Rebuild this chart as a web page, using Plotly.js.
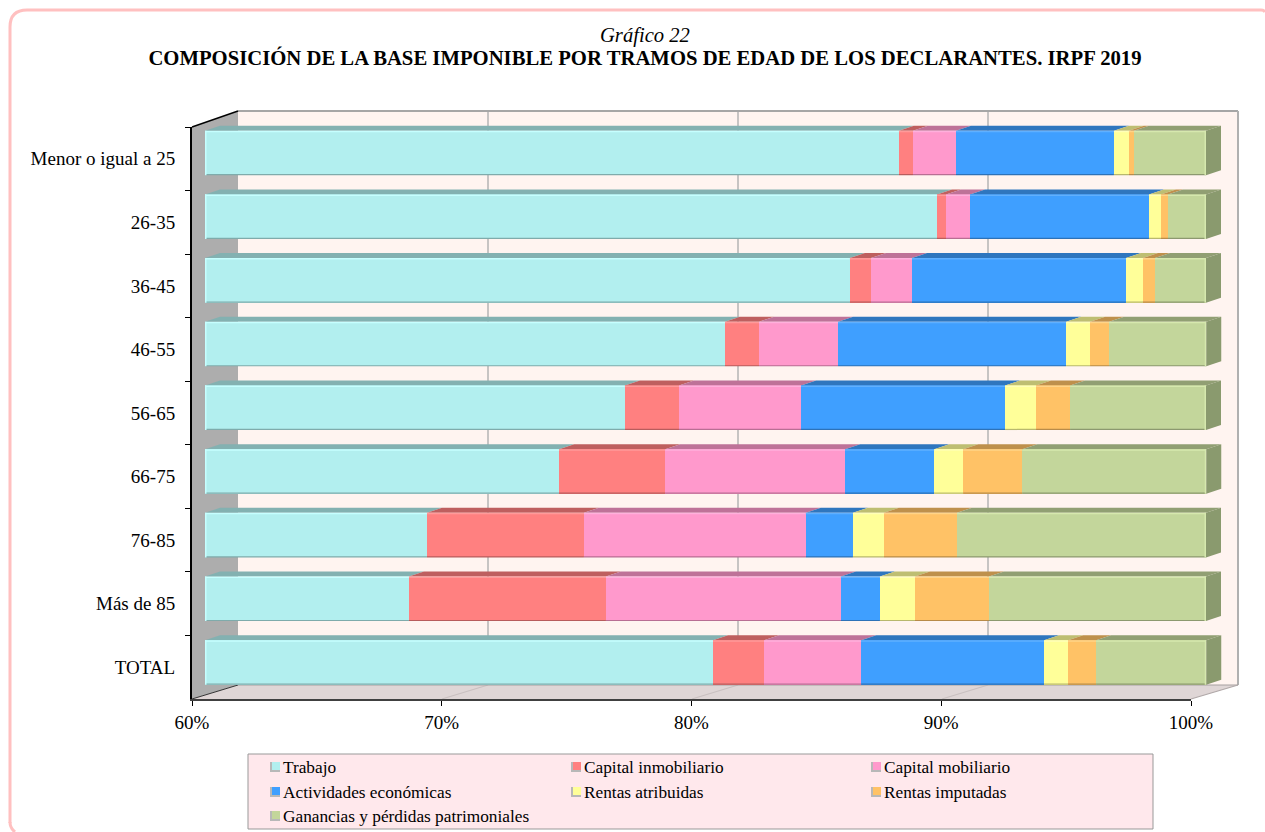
<!DOCTYPE html>
<html><head><meta charset="utf-8">
<script src="https://cdn.plot.ly/plotly-3.0.1.min.js"></script>
<style>html,body{margin:0;padding:0;background:#fff;overflow:hidden}</style>
</head><body><div id="chart" style="width:1265px;height:832px"></div>
<script>
const categories = ["Menor o igual a 25","26-35","36-45","46-55","56-65","66-75","76-85","Más de 85","TOTAL"];
const trabajo     = [87.73,89.25,85.77,80.78,76.78,74.15,68.87,68.15,80.30];
const inmobiliario= [0.56,0.36,0.84,1.36,2.16,4.24,6.27,7.87,2.04];
const mobiliario  = [1.72,0.96,1.64,3.16,4.88,7.19,8.87,9.39,3.88];
const actividades = [6.31,7.15,8.55,9.11,8.15,3.56,1.88,1.56,7.31];
const atribuidas  = [0.60,0.48,0.68,0.96,1.24,1.16,1.24,1.40,0.96];
const imputadas   = [0.20,0.28,0.48,0.76,1.36,2.36,2.92,2.96,1.12];
const ganancias   = [2.88,1.52,2.04,3.88,5.43,7.35,9.95,8.67,4.40];
const seriesNames = ["Trabajo","Capital inmobiliario","Capital mobiliario","Actividades económicas","Rentas atribuidas","Rentas imputadas","Ganancias y pérdidas patrimoniales"];
const seriesData  = [trabajo,inmobiliario,mobiliario,actividades,atribuidas,imputadas,ganancias];
const frontCols = ["#B2EFEF","#FF8080","#FF99CC","#3F9FFF","#FFFF99","#FFC266","#C3D69B"];
const topCols   = ["#83B1B1","#BE5F5F","#BE7298","#2F76BE","#BEBE72","#BE904C","#919F73"];
const hiCols    = ["#C6FFFF","#FF9A9A","#FFB0DC","#60B0FF","#FFFFB8","#FFD488","#D6E8AE"];
const loCols    = ["#7FABAB","#B85C5C","#B86E93","#2D72B8","#B8B86E","#B88B49","#8C996F"];
const sideCol = "#8A9A6E";
const W=1265,H=832;
const fx=p=>p/W, fy=p=>1-p/H;
const poly=(pts,fill,line,lw)=>({type:"path",xref:"paper",yref:"paper",layer:"below",
  path:"M"+pts.map(p=>fx(p[0])+","+fy(p[1])).join("L")+"Z",fillcolor:fill,line:{color:line||fill,width:lw||0}});
const seg=(a,b,col,lw)=>({type:"line",xref:"paper",yref:"paper",layer:"below",x0:fx(a[0]),y0:fy(a[1]),x1:fx(b[0]),y1:fy(b[1]),line:{color:col,width:lw}});
const shapes=[];
// page frame
shapes.push({type:"path",xref:"paper",yref:"paper",layer:"below",fillcolor:"rgba(0,0,0,0)",line:{color:"#FFC0C0",width:3},
  path:`M${fx(10)},${fy(823)}L${fx(10)},${fy(27)}Q${fx(10)},${fy(10)} ${fx(27)},${fy(10)}L${fx(1261)},${fy(10)}Q${fx(1264)},${fy(10)} ${fx(1265)},${fy(12)}`});
shapes.push({type:"path",xref:"paper",yref:"paper",layer:"below",fillcolor:"rgba(0,0,0,0)",line:{color:"#FFC0C0",width:3},
  path:`M${fx(10)},${fy(822)}Q${fx(10)},${fy(828)} ${fx(15)},${fy(832)}`});
// walls
shapes.push(poly([[238,111],[1238,111],[1238,685],[238,685]],"#FFF4F0"));
shapes.push(poly([[192,127],[238,111],[238,685],[192,699]],"#ADADAD"));
shapes.push(poly([[192,699],[238,685],[1238,685],[1191,699]],"#DFD6D6"));
[1,2,3].forEach(k=>{
  const b=238+250*k, f=192+250*k;
  shapes.push(seg([b,111],[b,685],"#B5B5B5",1.5));
  shapes.push(seg([f,699],[b,685],"#C9C0C0",1.2));
});
shapes.push(seg([238,111],[1238,111],"#A6A6A6",2));
shapes.push(seg([1238,111],[1238,685],"#B0B0B0",2));
shapes.push(seg([238,685],[1238,685],"#A6A0A0",1));
shapes.push(seg([1191,699],[1238,685],"#B0A8A8",1.2));
shapes.push(seg([192,127],[238,111],"#000000",1.5));
shapes.push(seg([192,699],[238,685],"#333333",1));
// legend box and swatches
shapes.push(poly([[248,754],[1153,754],[1153,829],[248,829]],"#FFE8EC","#999999",1));
const annotations=[];
const legX=[283,584,884], legY=[767,792,816];
seriesNames.forEach((n,k)=>{
  const c=k%3, r=Math.floor(k/3), x=legX[c], y=legY[r];
  shapes.push(poly([[x-13,y-5],[x-3,y-5],[x-3,y+5],[x-13,y+5]],"#B8B8B8"));
  shapes.push(poly([[x-11,y-5],[x-3,y-5],[x-3,y+3],[x-11,y+3]],frontCols[k]));
  annotations.push({text:n,xref:"paper",yref:"paper",x:fx(x),y:fy(y),xanchor:"left",yanchor:"middle",showarrow:false,
    xshift:-2,font:{size:17.3,color:"#000"}});
});
annotations.push({text:"<i>Gráfico 22</i>",xref:"paper",yref:"paper",x:fx(645),y:fy(36),xanchor:"center",yanchor:"middle",showarrow:false,font:{size:20.6,color:"#000"}});
// 3-D faces of the bars, from the data
const dx=15/25.025, dy=5/63.69, half=0.35, ePx=1/63.69, eX=1/25.025;
const dataPoly=(pts,fill)=>({type:"path",xref:"x2",yref:"y2",layer:"above",
  path:"M"+pts.map(p=>p[0]+","+p[1]).join("L")+"Z",fillcolor:fill,line:{width:0}});
categories.forEach((c,i)=>{
  let cum=0;
  seriesData.forEach((s,k)=>{
    const a=cum,b=cum+s[i]; cum=b;
    const t=i-half, u=i+half, aa=Math.max(a,60);
    shapes.push(dataPoly([[aa,t],[b,t],[b+dx,t-dy],[aa+dx,t-dy]],topCols[k]));
    shapes.push(dataPoly([[aa,t],[b,t],[b,t+1.5*ePx],[aa,t+1.5*ePx]],hiCols[k]));
    shapes.push(dataPoly([[aa,u-1.2*ePx],[b,u-1.2*ePx],[b,u],[aa,u]],loCols[k]));
  });
  const e=cum,t=i-half,u=i+half;
  shapes.push(dataPoly([[60,t],[60+1.5*eX,t],[60+1.5*eX,u],[60,u]],hiCols[0]));
  shapes.push(dataPoly([[e-1.5*eX,t],[e,t],[e,u],[e-1.5*eX,u]],hiCols[6]));
  shapes.push(dataPoly([[e,t],[e+dx,t-dy],[e+dx,u-dy],[e,u]],sideCol));
});
const traces=seriesNames.map((n,k)=>({type:"bar",orientation:"h",name:n,x:seriesData[k],y:categories,
  xaxis:"x2",yaxis:"y2",marker:{color:frontCols[k],line:{width:0}},hoverinfo:"x+name+y"}));
// invisible carrier so the front-plane axes are drawn with their categories
traces.unshift({type:"scatter",mode:"markers",x:trabajo,y:categories,xaxis:"x",yaxis:"y",marker:{opacity:0,size:1},showlegend:false,hoverinfo:"skip"});
const serif='"Liberation Serif","Times New Roman",serif';
const layout={width:W,height:H,margin:{l:0,r:0,t:0,b:0},paper_bgcolor:"#fff",plot_bgcolor:"rgba(0,0,0,0)",
  barmode:"stack",bargap:0.3,font:{family:serif,size:17,color:"#000"},showlegend:false,
  title:{text:"<b>COMPOSICIÓN DE LA BASE IMPONIBLE POR TRAMOS DE EDAD DE LOS DECLARANTES. IRPF 2019</b>",
    font:{family:serif,size:20.7,color:"#000"},x:645/W,xanchor:"center",y:fy(58),yanchor:"middle"},
  xaxis:{domain:[fx(192),fx(1191)],range:[60,100],tickmode:"array",tickvals:[60,70,80,90,100],ticktext:["60%","70%","80%","90%","100%"],
    anchor:"y",showgrid:false,zeroline:false,showline:true,linecolor:"#404040",linewidth:2,ticks:"outside",ticklen:5,tickcolor:"#000",tickwidth:1,
    tickfont:{family:serif,size:19,color:"#000"}},
  yaxis:{domain:[fy(699),fy(127)],type:"category",categoryorder:"array",categoryarray:categories,range:[8.5,-0.5],anchor:"x",
    showgrid:false,zeroline:false,showline:true,linecolor:"#000",linewidth:2,ticks:"outside",ticklen:5,tickcolor:"#000",tickwidth:1,tickson:"boundaries",
    ticklabelstandoff:11,tickfont:{family:serif,size:19,color:"#000"}},
  xaxis2:{domain:[fx(205),fx(1256.05)],range:[60,102],anchor:"y2",visible:false},
  yaxis2:{domain:[fy(694.34),fy(121.16)],type:"category",categoryorder:"array",categoryarray:categories,range:[8.5,-0.5],anchor:"x2",visible:false},
  shapes:shapes,annotations:annotations};
Plotly.newPlot("chart",traces,layout,{displayModeBar:false,staticPlot:true});
</script></body></html>
